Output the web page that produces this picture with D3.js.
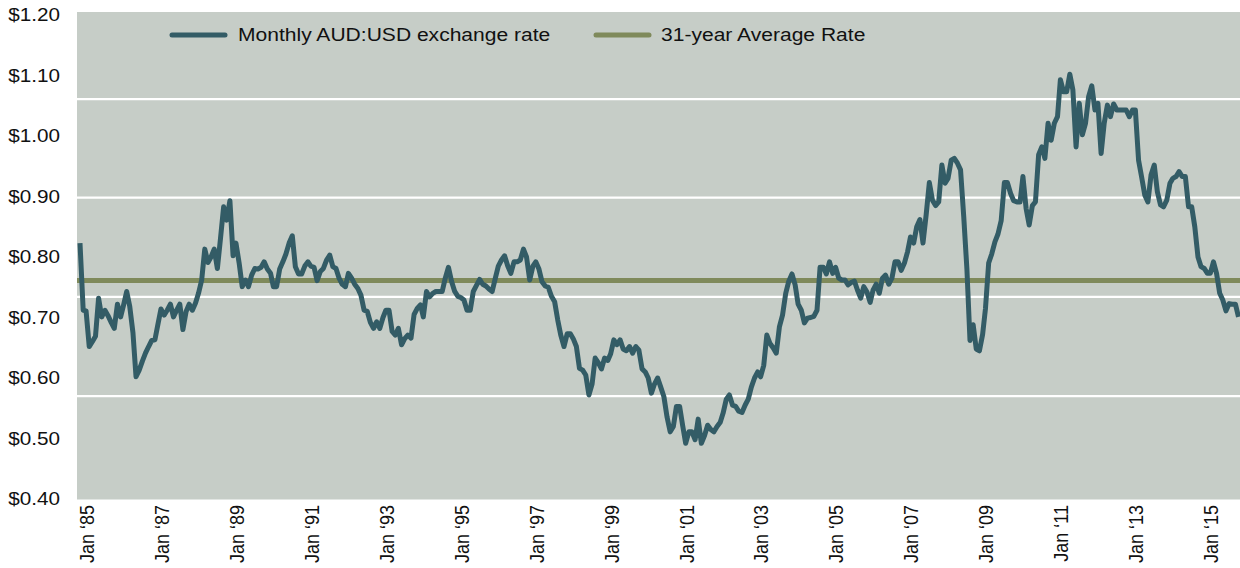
<!DOCTYPE html>
<html><head><meta charset="utf-8">
<script src="https://cdn.jsdelivr.net/npm/d3@7"></script>
<style>html,body{margin:0;padding:0;background:#fff;} svg{display:block;}</style>
</head><body><svg id="chart" width="1240" height="568"></svg>
<script>
// ---- data ----
const startYear = 1985;
const startMonth = 0; // January
const rateValues = [
  // 1985
  0.823, 0.712, 0.711, 0.652, 0.660, 0.669, 0.732, 0.701, 0.712, 0.703, 0.692, 0.682,
  // 1986
  0.722, 0.701, 0.720, 0.743, 0.718, 0.675, 0.602, 0.613, 0.628, 0.641, 0.652, 0.662,
  // 1987
  0.663, 0.690, 0.714, 0.704, 0.712, 0.722, 0.701, 0.712, 0.722, 0.680, 0.710, 0.722,
  // 1988
  0.712, 0.724, 0.740, 0.762, 0.813, 0.791, 0.800, 0.813, 0.781, 0.830, 0.883, 0.861,
  // 1989
  0.893, 0.802, 0.823, 0.790, 0.751, 0.762, 0.751, 0.770, 0.781, 0.780, 0.783, 0.792,
  // 1990
  0.780, 0.773, 0.751, 0.751, 0.780, 0.792, 0.805, 0.823, 0.835, 0.784, 0.772, 0.772,
  // 1991
  0.785, 0.792, 0.785, 0.783, 0.761, 0.776, 0.781, 0.795, 0.803, 0.784, 0.781, 0.765,
  // 1992
  0.755, 0.751, 0.773, 0.765, 0.755, 0.748, 0.737, 0.712, 0.710, 0.692, 0.682, 0.693,
  // 1993
  0.682, 0.700, 0.712, 0.712, 0.677, 0.671, 0.682, 0.655, 0.665, 0.671, 0.666, 0.705,
  // 1994
  0.715, 0.721, 0.701, 0.743, 0.734, 0.740, 0.743, 0.743, 0.743, 0.765, 0.783, 0.760,
  // 1995
  0.743, 0.735, 0.733, 0.729, 0.712, 0.712, 0.743, 0.753, 0.763, 0.755, 0.752, 0.747,
  // 1996
  0.743, 0.765, 0.785, 0.795, 0.802, 0.785, 0.773, 0.792, 0.792, 0.795, 0.813, 0.800,
  // 1997
  0.762, 0.785, 0.792, 0.780, 0.759, 0.752, 0.750, 0.735, 0.726, 0.696, 0.670, 0.652,
  // 1998
  0.673, 0.673, 0.665, 0.652, 0.616, 0.613, 0.605, 0.572, 0.590, 0.633, 0.625, 0.615,
  // 1999
  0.633, 0.629, 0.640, 0.663, 0.655, 0.663, 0.648, 0.645, 0.652, 0.641, 0.652, 0.646,
  // 2000
  0.615, 0.610, 0.600, 0.575, 0.590, 0.600, 0.585, 0.569, 0.535, 0.511, 0.520, 0.553,
  // 2001
  0.553, 0.520, 0.492, 0.511, 0.511, 0.498, 0.532, 0.492, 0.505, 0.522, 0.515, 0.511,
  // 2002
  0.520, 0.527, 0.542, 0.565, 0.572, 0.555, 0.553, 0.545, 0.543, 0.555, 0.565, 0.585,
  // 2003
  0.600, 0.610, 0.602, 0.621, 0.671, 0.657, 0.650, 0.641, 0.685, 0.704, 0.740, 0.760,
  // 2004
  0.772, 0.754, 0.722, 0.712, 0.691, 0.699, 0.700, 0.702, 0.712, 0.783, 0.783, 0.772,
  // 2005
  0.792, 0.773, 0.783, 0.765, 0.762, 0.762, 0.754, 0.758, 0.760, 0.745, 0.732, 0.751,
  // 2006
  0.742, 0.725, 0.745, 0.755, 0.740, 0.765, 0.770, 0.755, 0.765, 0.792, 0.792, 0.778,
  // 2007
  0.790, 0.809, 0.833, 0.823, 0.850, 0.862, 0.823, 0.870, 0.923, 0.894, 0.885, 0.891,
  // 2008
  0.952, 0.922, 0.930, 0.960, 0.963, 0.955, 0.944, 0.867, 0.780, 0.662, 0.688, 0.648,
  // 2009
  0.645, 0.672, 0.715, 0.790, 0.805, 0.825, 0.838, 0.860, 0.923, 0.923, 0.905, 0.893,
  // 2010
  0.891, 0.891, 0.933, 0.880, 0.853, 0.885, 0.891, 0.969, 0.982, 0.963, 1.021, 0.993,
  // 2011
  1.021, 1.032, 1.093, 1.073, 1.073, 1.102, 1.076, 0.982, 1.054, 1.002, 1.021, 1.065,
  // 2012
  1.083, 1.043, 1.054, 0.971, 1.021, 1.051, 1.032, 1.053, 1.043, 1.043, 1.043, 1.043,
  // 2013
  1.032, 1.043, 1.043, 0.960, 0.932, 0.902, 0.891, 0.936, 0.952, 0.908, 0.886, 0.883,
  // 2014
  0.894, 0.922, 0.930, 0.933, 0.941, 0.933, 0.933, 0.883, 0.883, 0.850, 0.800, 0.784,
  // 2015
  0.781, 0.773, 0.773, 0.792, 0.773, 0.740, 0.729, 0.711, 0.723, 0.722, 0.722, 0.701
];
const averageRate = 0.761;
const gridValues = [0.570, 0.734, 0.898, 1.061];
const yTickValues = [0.40, 0.50, 0.60, 0.70, 0.80, 0.90, 1.00, 1.10, 1.20];
const xTickYears = [1985, 1987, 1989, 1991, 1993, 1995, 1997, 1999, 2001, 2003, 2005, 2007, 2009, 2011, 2013, 2015];
const seriesNames = ["Monthly AUD:USD exchange rate", "31-year Average Rate"];
const seriesColors = ["#335c66", "#7f8a5b"];

// ---- drawing ----
const W = 1240, H = 568;
const plot = {left: 77, top: 12, right: 1240, bottom: 499.5};
const bg = "#c6cdc7";
const fontFamily = "'Liberation Sans', Arial, Helvetica, sans-serif";
const stretch = 1.15;

const svg = d3.select("#chart");
const data = rateValues.map((v, i) => ({date: new Date(startYear, startMonth + i, 1), value: v}));

const x = d3.scaleTime()
  .domain([data[0].date, data[data.length - 1].date])
  .range([80, 1238.5]);
const y = d3.scaleLinear().domain([0.40, 1.20]).range([499, 15]);

svg.append("rect")
  .attr("x", plot.left).attr("y", plot.top)
  .attr("width", plot.right - plot.left).attr("height", plot.bottom - plot.top)
  .attr("fill", bg);

// gridlines
svg.append("g").selectAll("line").data(gridValues).join("line")
  .attr("x1", plot.left).attr("x2", plot.right)
  .attr("y1", d => y(d)).attr("y2", d => y(d))
  .attr("stroke", "#ffffff").attr("stroke-width", 2.2);

// average line
svg.append("line")
  .attr("x1", plot.left).attr("x2", plot.right)
  .attr("y1", y(averageRate)).attr("y2", y(averageRate))
  .attr("stroke", seriesColors[1]).attr("stroke-width", 5);

// data line
const line = d3.line().x(d => x(d.date)).y(d => y(d.value));
svg.append("path").datum(data)
  .attr("d", line)
  .attr("fill", "none")
  .attr("stroke", seriesColors[0])
  .attr("stroke-width", 5)
  .attr("stroke-linejoin", "round")
  .attr("stroke-linecap", "butt");

// y labels
const fmt = d3.format("$.2f");
svg.append("g").selectAll("text").data(yTickValues).join("text")
  .attr("transform", d => `translate(60,${y(d)}) scale(${stretch},1)`)
  .attr("dy", "0.36em")
  .attr("text-anchor", "end")
  .attr("font-family", fontFamily).attr("font-size", 18)
  .attr("fill", "#111")
  .text(d => fmt(d));

// x labels
svg.append("g").selectAll("text").data(xTickYears).join("text")
  .attr("transform", d => `translate(${x(new Date(d, 0, 1)) + 6.5},505) scale(${stretch},1) rotate(-90)`)
  .attr("dy", "0.36em")
  .attr("text-anchor", "end")
  .attr("font-family", fontFamily).attr("font-size", 18)
  .attr("fill", "#111")
  .text(d => "Jan \u2018" + String(d).slice(2));

// legend
const legendItems = [
  {name: seriesNames[0], color: seriesColors[0], x0: 172, x1: 225, tx: 238},
  {name: seriesNames[1], color: seriesColors[1], x0: 596, x1: 649, tx: 661}
];
const lg = svg.append("g");
legendItems.forEach(it => {
  lg.append("line")
    .attr("x1", it.x0).attr("x2", it.x1).attr("y1", 35).attr("y2", 35)
    .attr("stroke", it.color).attr("stroke-width", 5).attr("stroke-linecap", "round");
  lg.append("text")
    .attr("transform", `translate(${it.tx},41) scale(${stretch},1)`)
    .attr("font-family", fontFamily).attr("font-size", 18.3)
    .attr("fill", "#111")
    .text(it.name);
});
</script>
</body></html>
